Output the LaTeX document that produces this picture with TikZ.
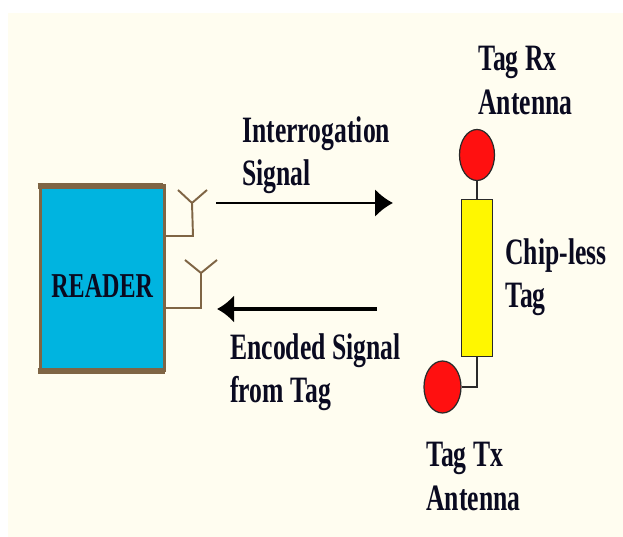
\documentclass[tikz,border=0pt]{standalone}
\usepackage{fontspec}
\setmainfont{Liberation Serif}
\usetikzlibrary{arrows.meta,shapes.geometric}
\definecolor{panelbg}{HTML}{FFFDF0}
\definecolor{readerblue}{HTML}{00B4E0}
\definecolor{readerbrown}{HTML}{7F6545}
\definecolor{tagyellow}{HTML}{FFF700}
\definecolor{antred}{HTML}{FF1010}
\definecolor{wiredark}{HTML}{2A2A2A}
\definecolor{textdark}{HTML}{0A0A20}
\tikzset{
    lbl/.style={font=\bfseries\fontsize{14.6}{17}\selectfont,text=textdark,align=left,inner sep=0pt,anchor=north west,yscale=1.45,transform shape},
    antwire/.style={readerbrown,line width=1.1pt},
    tagwire/.style={wiredark,line width=0.9pt},
    antball/.style={ellipse,draw=wiredark,fill=antred,line width=0.7pt,inner sep=0pt}
}
\begin{document}
\begin{tikzpicture}
    \useasboundingbox (0,0) rectangle (12.46,10.74);
        \fill[panelbg] (0.16,0) rectangle (12.46,10.48);
        % reader
        \node[draw=readerbrown,fill=readerblue,line width=1.7pt,minimum width=2.48cm,minimum height=3.7cm,inner sep=0pt] (reader) at (2.05,5.17) {};
        \draw[readerbrown,line width=3.4pt] (reader.north west) ++(-0.03,-0.03) -- ++(2.5,0);
        \draw[readerbrown,line width=3.4pt] (reader.south west) ++(-0.03,0.03) -- ++(2.54,0);
        \node[lbl,font=\bfseries\fontsize{13.7}{17}\selectfont] (readerlbl) at (1.02,5.26) {READER};
        % reader antennas
        \coordinate (jointa) at (3.84,6.68);
        \coordinate (foota) at (3.86,6.02);
        \coordinate (armal) at (3.56,6.94);
        \coordinate (armar) at (4.14,6.94);
        \draw[antwire] (reader.east |- foota) -- (foota) -- (jointa) -- (armal);
        \draw[antwire] (jointa) -- (armar);
        \coordinate (jointb) at (4.02,5.28);
        \coordinate (footb) at (4.02,4.58);
        \coordinate (armbl) at (3.70,5.54);
        \coordinate (armbr) at (4.34,5.54);
        \draw[antwire] (reader.east |- footb) -- (footb) -- (jointb) -- (armbl);
        \draw[antwire] (jointb) -- (armbr);
        % signals
        \coordinate (intstart) at (4.32,6.68);
        \coordinate (intend) at (7.86,6.68);
        \draw[-{Latex[length=0.36cm,width=0.56cm]},line width=1.4pt,black] (intstart) -- (intend);
        \coordinate (encstart) at (7.54,4.56);
        \coordinate (encend) at (4.34,4.56);
        \draw[-{Latex[length=0.34cm,width=0.56cm]},line width=2.8pt,black] (encstart) -- (encend);
        \node[lbl] (intlbl) at (4.84,8.42) {Interrogation\\Signal};
        \node[lbl] (enclbl) at (4.6,4.08) {Encoded Signal\\from Tag};
        % tag
        \node[draw=wiredark,fill=tagyellow,line width=0.8pt,minimum width=0.62cm,minimum height=3.14cm,inner sep=0pt] (tagbody) at (9.54,5.18) {};
        \node[antball,minimum width=0.7cm,minimum height=1.02cm] (rxant) at (9.54,7.64) {};
        \node[antball,minimum width=0.74cm,minimum height=1.04cm] (txant) at (8.85,3) {};
        \draw[tagwire] (rxant.south) -- (tagbody.north);
        \draw[tagwire] (txant.east) -| (tagbody.south);
        \node[lbl] (rxlbl) at (9.56,9.82) {Tag Rx\\Antenna};
        \node[lbl] (chiplbl) at (10.1,5.98) {Chip-less\\Tag};
        \node[lbl] (txlbl) at (8.52,1.9) {Tag Tx\\Antenna};
\end{tikzpicture}
\end{document}
